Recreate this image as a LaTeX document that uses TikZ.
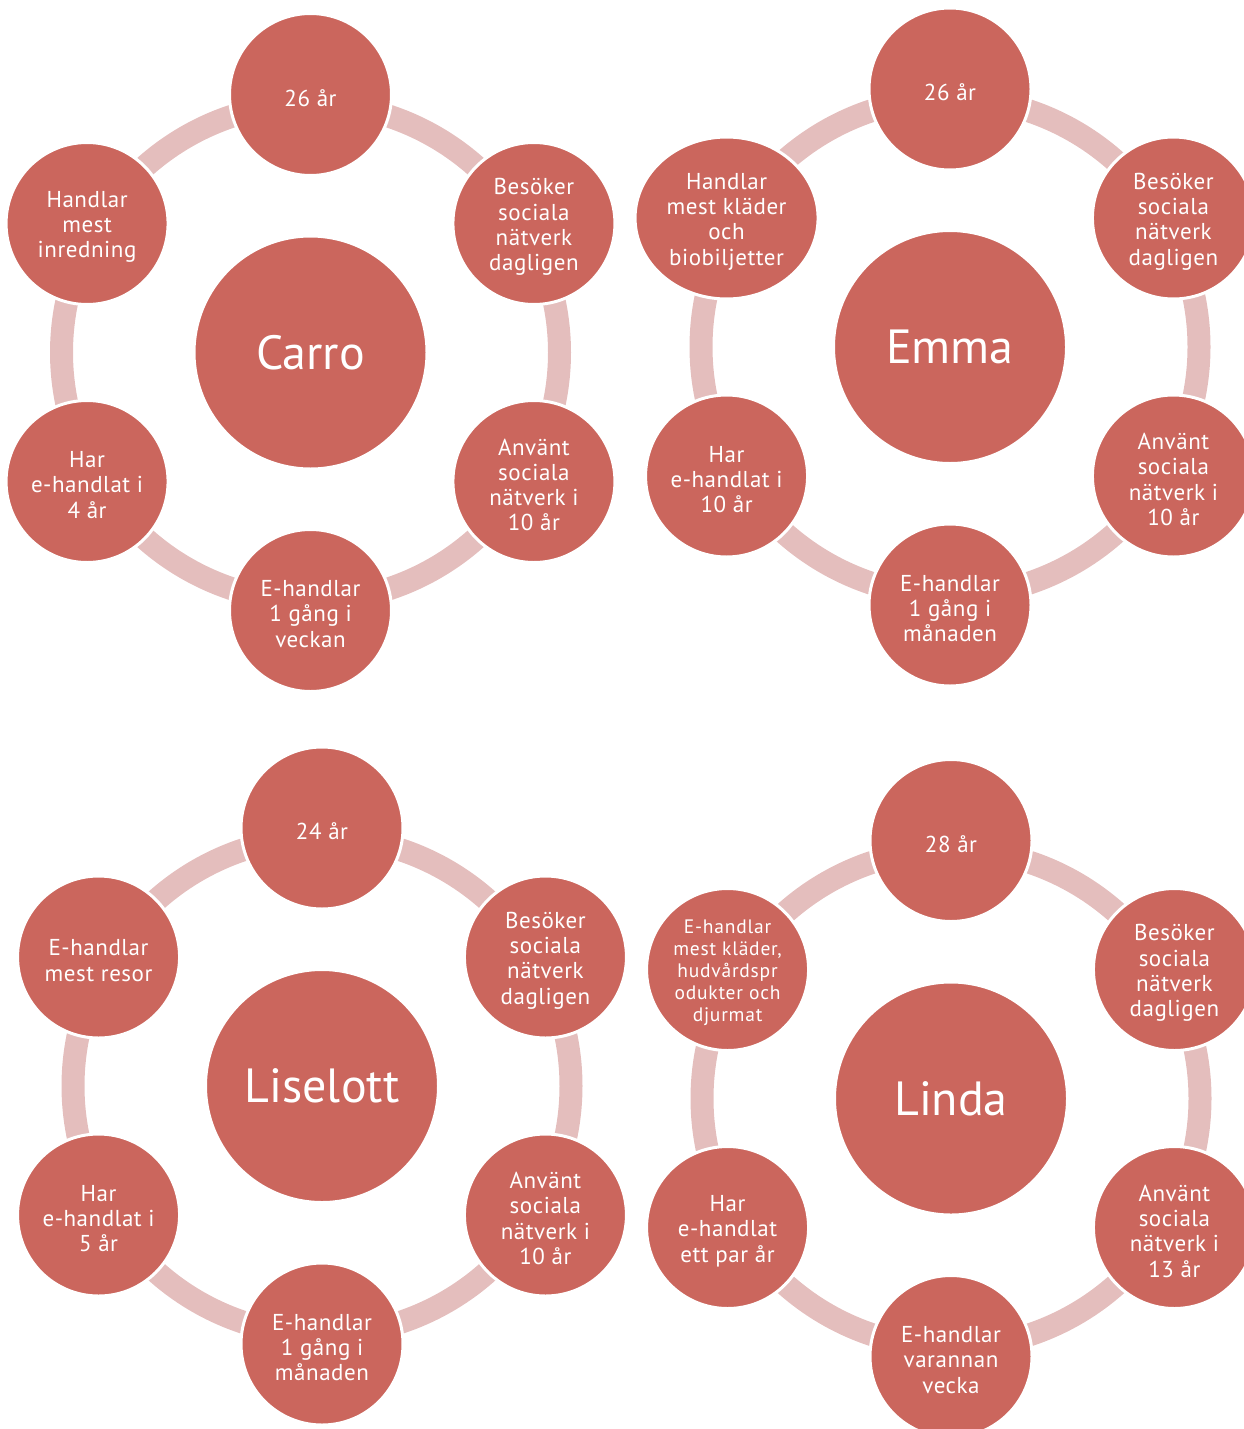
\documentclass[tikz,border=0pt]{standalone}
\usepackage{fontspec}
\setmainfont{PT Sans}
\newfontfamily\satfont{PT Sans}[LetterSpace=2.4]
\newfontfamily\smallsatfont{PT Sans}[LetterSpace=4.0]
\usetikzlibrary{shapes.geometric}

\definecolor{discred}{HTML}{CB665D}
\definecolor{ringpink}{HTML}{E4BEBD}

\tikzset{
  hub/.style={circle, fill=discred, draw=white, line width=3pt,
    minimum size=233pt, inner sep=0pt, text=white,
    font=\fontsize{48}{56}\selectfont},
  disc/.style={circle, fill=discred, draw=white, line width=3pt,
    minimum size=162pt, inner sep=0pt},
  satlabel/.style={text=white, align=center, inner sep=0pt, yshift=-3.5pt,
    font=\satfont\fontsize{23}{25.3}\selectfont},
  smalltext/.style={font=\smallsatfont\fontsize{19.5}{22}\selectfont},
  sat/.style={disc, label={[satlabel]center:{#1}}},
  satsmall/.style={disc, label={[satlabel,smalltext]center:{#1}}},
  widesat/.style={ellipse, minimum width=183pt, minimum height=162pt},
  ringarc/.style={draw=ringpink, line width=23pt},
}

% six arc segments of the ring around a hub
\newcommand\hubring[1]{%
  \foreach \a in {90,30,-30,-90,-150,-210}
    \draw[ringarc] (#1) ++(\a:249pt) arc[start angle=\a, end angle=\a-60, radius=249pt];
}

\begin{document}
\begin{tikzpicture}[x=1pt,y=-1pt]
\useasboundingbox (0,0) rectangle (1244,1429);

% ---------------- Carro ----------------
\node[hub] (carro) at (310.5,352.5) {Carro};
\hubring{carro}
\node[sat={26 år}] (carro-age) at ([shift={(90:258pt)}]carro) {};
\node[sat={Besöker\\sociala\\nätverk\\dagligen}] (carro-visits) at ([shift={(30:258pt)}]carro) {};
\node[sat={Använt\\sociala\\nätverk i\\10 år}] (carro-years) at ([shift={(-30:258pt)}]carro) {};
\node[sat={E-handlar\\1 gång i\\veckan}] (carro-freq) at ([shift={(-90:258pt)}]carro) {};
\node[sat={Har\\e-handlat i\\4 år}] (carro-since) at ([shift={(-150:258pt)}]carro) {};
\node[sat={Handlar\\mest\\inredning}] (carro-buys) at ([shift={(150:258pt)}]carro) {};

% ---------------- Emma ----------------
\node[hub] (emma) at (950,347) {Emma};
\hubring{emma}
\node[sat={26 år}] (emma-age) at ([shift={(90:258pt)}]emma) {};
\node[sat={Besöker\\sociala\\nätverk\\dagligen}] (emma-visits) at ([shift={(30:258pt)}]emma) {};
\node[sat={Använt\\sociala\\nätverk i\\10 år}] (emma-years) at ([shift={(-30:258pt)}]emma) {};
\node[sat={E-handlar\\1 gång i\\månaden}] (emma-freq) at ([shift={(-90:258pt)}]emma) {};
\node[sat={Har\\e-handlat i\\10 år}] (emma-since) at ([shift={(-150:258pt)}]emma) {};
\node[sat={Handlar\\mest kläder\\och\\biobiljetter},widesat] (emma-buys) at ([shift={(150:258pt)}]emma) {};

% ---------------- Liselott ----------------
\node[hub] (liselott) at (322,1086) {Liselott};
\hubring{liselott}
\node[sat={24 år}] (liselott-age) at ([shift={(90:258pt)}]liselott) {};
\node[sat={Besöker\\sociala\\nätverk\\dagligen}] (liselott-visits) at ([shift={(30:258pt)}]liselott) {};
\node[sat={Använt\\sociala\\nätverk i\\10 år}] (liselott-years) at ([shift={(-30:258pt)}]liselott) {};
\node[sat={E-handlar\\1 gång i\\månaden}] (liselott-freq) at ([shift={(-90:258pt)}]liselott) {};
\node[sat={Har\\e-handlat i\\5 år}] (liselott-since) at ([shift={(-150:258pt)}]liselott) {};
\node[sat={E-handlar\\mest resor}] (liselott-buys) at ([shift={(150:258pt)}]liselott) {};

% ---------------- Linda ----------------
\node[hub] (linda) at (951,1098.5) {Linda};
\hubring{linda}
\node[sat={28 år}] (linda-age) at ([shift={(90:258pt)}]linda) {};
\node[sat={Besöker\\sociala\\nätverk\\dagligen}] (linda-visits) at ([shift={(30:258pt)}]linda) {};
\node[sat={Använt\\sociala\\nätverk i\\13 år}] (linda-years) at ([shift={(-30:258pt)}]linda) {};
\node[sat={E-handlar\\varannan\\vecka}] (linda-freq) at ([shift={(-90:258pt)}]linda) {};
\node[sat={Har\\e-handlat\\ett par år}] (linda-since) at ([shift={(-150:258pt)}]linda) {};
\node[satsmall={E-handlar\\mest kläder,\\hudvårdspr\\odukter och\\djurmat}] (linda-buys) at ([shift={(150:258pt)}]linda) {};

\end{tikzpicture}
\end{document}
